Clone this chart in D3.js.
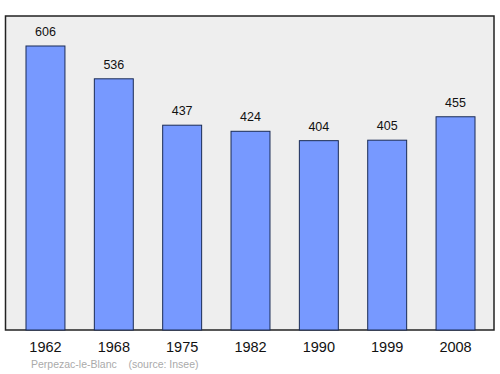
<!DOCTYPE html>
<html><head><meta charset="utf-8">
<script src="https://cdn.jsdelivr.net/npm/d3@7"></script>
<style>body{margin:0;background:#fff}svg{display:block}</style>
</head><body>
<script>
const years = ["1962","1968","1975","1982","1990","1999","2008"];
const population = [606,536,437,424,404,405,455];
const footer = "Perpezac-le-Blanc    (source: Insee)";

const W=500,H=374;
const svg=d3.select("body").append("svg").attr("width",W).attr("height",H);
const frame={x0:5.5,y0:16,x1:494,y1:330};
svg.append("rect").attr("x",frame.x0).attr("y",frame.y0).attr("width",frame.x1-frame.x0).attr("height",frame.y1-frame.y0)
  .attr("fill","#eeeeee").attr("stroke","#222").attr("stroke-width",1.5);
const x=d3.scaleBand().domain(years).range([11.3,489.7]).paddingInner(0.43).paddingOuter(0.215);
const y=d3.scaleLinear().domain([0,670]).range([frame.y1,frame.y1-314]);
const data=years.map((d,i)=>({year:d,v:population[i]}));
svg.selectAll("rect.bar").data(data).join("rect").attr("class","bar")
  .attr("x",d=>x(d.year)).attr("y",d=>y(d.v)).attr("width",x.bandwidth()).attr("height",d=>y(0)-y(d.v))
  .attr("fill","#7799ff").attr("stroke","#1a2b55").attr("stroke-width",1);
svg.selectAll("text.val").data(data).join("text").attr("class","val")
  .attr("x",d=>x(d.year)+x.bandwidth()/2).attr("y",d=>y(d.v)-10)
  .attr("text-anchor","middle").attr("font-family","Liberation Sans, Arial, sans-serif").attr("font-size",12.5).attr("fill","#111")
  .text(d=>d.v);
const ax=svg.append("g").attr("transform",`translate(0,${frame.y1})`).call(d3.axisBottom(x).tickSize(0).tickPadding(12));
ax.select(".domain").remove();
ax.selectAll("text").attr("font-family","Liberation Sans, Arial, sans-serif").attr("font-size",14.5).attr("fill","#111");
svg.append("text").attr("x",31).attr("y",368).attr("font-family","Liberation Sans, Arial, sans-serif").attr("font-size",10.5)
  .attr("fill","#aaaaaa").attr("xml:space","preserve").style("white-space","pre").text(footer);
</script>
</body></html>
